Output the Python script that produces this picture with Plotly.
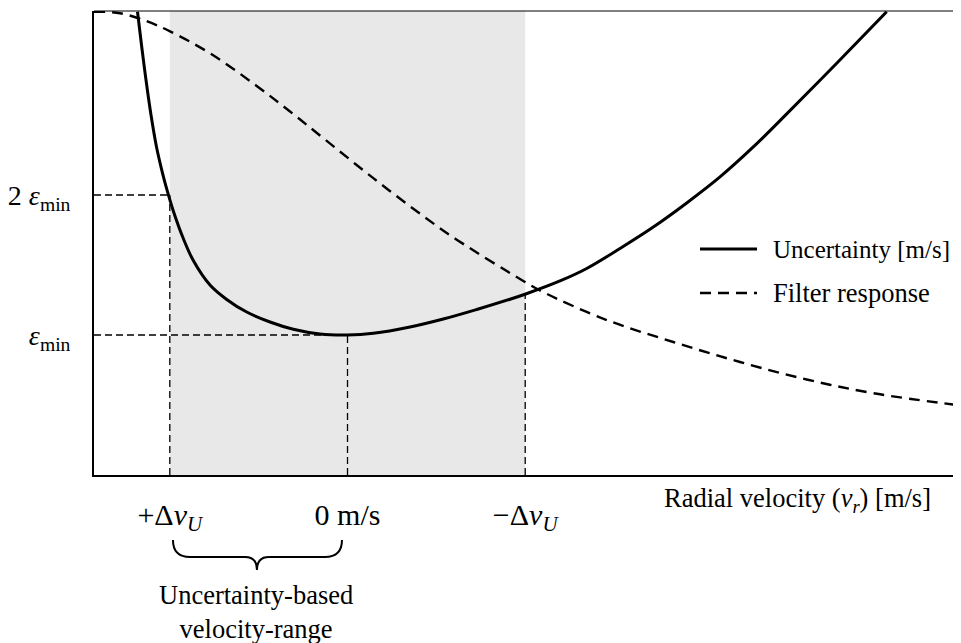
import plotly.graph_objects as go

# velocity in units of dv_U (axis reversed: +dv_U on the left), values in units of eps_min
unc_v = [1.1818, 1.1593, 1.1339, 1.1058, 1.0748, 1.0439, 1.0174, 0.9803, 0.9240, 0.8678,
         0.7738, 0.6798, 0.5673, 0.4361, 0.3050, 0.1548, 0.0,
         -0.1452, -0.3517, -0.5391, -0.7271, -0.9145, -0.9989, -1.1958, -1.3461, -1.5335,
         -1.7209, -1.9088, -2.0962, -2.2836, -2.4716, -2.7530, -3.0343]
unc_y = [3.309, 3.071, 2.821, 2.571, 2.343, 2.171, 2.043, 1.886, 1.689, 1.532,
         1.357, 1.254, 1.164, 1.093, 1.041, 1.007, 1.0,
         1.012, 1.057, 1.114, 1.182, 1.255, 1.291, 1.386, 1.475, 1.618,
         1.771, 1.943, 2.129, 2.343, 2.579, 2.941, 3.309]

filt_v = [1.4266, 1.2802, 1.1300, 0.9989, 0.7738, 0.5110, 0.3236, 0.1362, -0.1452, -0.4266,
          -0.6145, -0.9893, -1.1114, -1.4586, -1.8334, -2.2088, -2.5841, -2.9589, -3.4283]
filt_y = [3.309, 3.298, 3.241, 3.169, 3.012, 2.779, 2.596, 2.406, 2.120, 1.849,
          1.681, 1.386, 1.300, 1.107, 0.950, 0.807, 0.682, 0.584, 0.5]

# guide lines: vertical at +dv_U, 0, -dv_U up to the curve; horizontal at 2 eps, eps
guide_v = [1.0, 0.0, -1.0]
guide_top = [2.0, 1.0, 1.29]
guide_h = [2.0, 1.0]
guide_h_end = [1.0, 0.0]

x_ticks = [1.0, 0.0, -1.0]
x_ticktext = ["+Δ<i>v</i><sub><i>U</i></sub>", "0 m/s", "−Δ<i>v</i><sub><i>U</i></sub>"]
y_ticks = [2.0, 1.0]
y_ticktext = ["2 <i>ε</i><sub>min</sub>", "<i>ε</i><sub>min</sub>"]

X_RANGE = [1.4266, -3.4524]
Y_RANGE = [0, 3.314]

FONT = "Liberation Serif, Times New Roman, serif"
# page body has an 8px margin, so the figure is shifted by that much
OFF = 8
W, H = 961 - OFF, 643 - OFF
X0, X1, Y0, Y1 = 94, 961, 11, 475   # plot area in page pixels


def px(x, y):
    # page pixel position -> paper coords
    return (x - X0) / (X1 - X0), (Y1 - y) / (Y1 - Y0)


def svg_path(pts):
    out = []
    for cmd, coords in pts:
        s = cmd
        for (a, b) in coords:
            u, v = px(a, b)
            s += " %.4f,%.4f" % (u, v)
        out.append(s)
    return " ".join(out)


fig = go.Figure()

guide = dict(color="black", width=1.3, dash="7px,4px")
for v, top in zip(guide_v, guide_top):
    fig.add_trace(go.Scatter(x=[v, v], y=[0, top], mode="lines", line=guide,
                             showlegend=False, hoverinfo="skip"))
for h, end in zip(guide_h, guide_h_end):
    fig.add_trace(go.Scatter(x=[X_RANGE[0], end], y=[h, h], mode="lines", line=guide,
                             showlegend=False, hoverinfo="skip"))

FILT_LINE = dict(color="black", width=2.4, dash="11px,7px")
fig.add_trace(go.Scatter(x=filt_v, y=filt_y, mode="lines", name="Filter response",
                         line=dict(FILT_LINE, shape="spline", smoothing=1),
                         showlegend=False))
fig.add_trace(go.Scatter(x=unc_v, y=unc_y, mode="lines", name="Uncertainty [m/s]",
                         line=dict(color="black", width=3, shape="spline", smoothing=1),
                         showlegend=False))

# shaded velocity range
fig.add_shape(type="rect", xref="x", yref="paper", x0=1.0, x1=-1.0, y0=0, y1=1,
              fillcolor="#e8e8e8", line_width=0, layer="below")
# thin top border
fig.add_shape(type="line", xref="paper", yref="paper", x0=0, x1=1, y0=1, y1=1,
              line=dict(color="black", width=1))

# legend drawn by hand
lx0, ly1 = px(700, 249)
lx1, ly2 = px(757, 293)
fig.add_shape(type="line", xref="paper", yref="paper", x0=lx0, x1=lx1, y0=ly1, y1=ly1,
              line=dict(color="black", width=3))
fig.add_shape(type="line", xref="paper", yref="paper", x0=lx0, x1=lx1, y0=ly2, y1=ly2,
              line=FILT_LINE)
tx, _ = px(771, 0)
fig.add_annotation(x=tx, y=ly1, xref="paper", yref="paper", text="Uncertainty [m/s]",
                   showarrow=False, xanchor="left", yanchor="middle", font_size=25)
fig.add_annotation(x=tx, y=ly2, xref="paper", yref="paper", text="Filter response",
                   showarrow=False, xanchor="left", yanchor="middle")

# axis label
ax, ay = px(662, 500)
fig.add_annotation(x=ax, y=ay, xref="paper", yref="paper",
                   text="Radial velocity (<i>v<sub>r</sub></i>) [m/s]",
                   showarrow=False, xanchor="left", yanchor="middle")

# brace + caption
path = svg_path([
    ("M", [(173, 540)]),
    ("Q", [(173, 557), (190, 557)]),
    ("L", [(245, 557)]),
    ("Q", [(257, 557), (257, 570)]),
    ("Q", [(257, 557), (269, 557)]),
    ("L", [(325, 557)]),
    ("Q", [(342, 557), (342, 540)]),
])
fig.add_shape(type="path", xref="paper", yref="paper", path=path,
              line=dict(color="black", width=2))
cx, cy = px(256, 612)
fig.add_annotation(x=cx, y=cy, xref="paper", yref="paper",
                   text="Uncertainty-based<br>velocity-range",
                   showarrow=False, xanchor="center", yanchor="middle")

fig.update_layout(
    width=W, height=H,
    margin=dict(l=X0 - OFF, r=961 - X1, t=Y0 - OFF, b=643 - Y1),
    plot_bgcolor="white", paper_bgcolor="white",
    font=dict(family=FONT, size=26.5, color="black"),
    showlegend=False,
)
fig.update_xaxes(range=X_RANGE, showgrid=False, zeroline=False, showline=True,
                 linecolor="black", linewidth=2, ticks="", tickvals=x_ticks,
                 ticktext=x_ticktext, ticklabelstandoff=12,
                 tickfont=dict(family=FONT, size=30, color="black"))
fig.update_yaxes(range=Y_RANGE, showgrid=False, zeroline=False, showline=True,
                 linecolor="black", linewidth=2, ticks="", tickvals=y_ticks,
                 ticktext=y_ticktext, ticklabelstandoff=16,
                 tickfont=dict(family=FONT, size=28, color="black"))

fig.write_html("out.html")
